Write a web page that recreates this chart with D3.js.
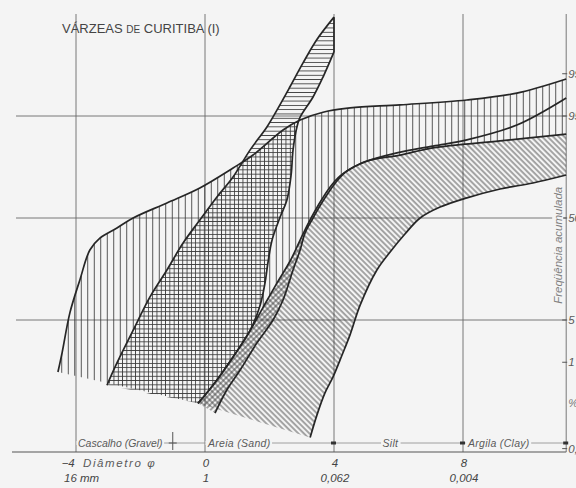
<!DOCTYPE html>
<html>
<head>
<meta charset="utf-8">
<script src="https://cdn.jsdelivr.net/npm/d3@7"></script>
<style>
  body { margin: 0; background: #f4f4f4; }
  svg { display: block; }
  text { font-family: 'Liberation Sans', Arial, sans-serif; }
</style>
</head>
<body>
<script>
// cumulative curves, as [phi, cumulative %]
let vUpper = [[-4.56, 0.65], [-4.43, 1.5], [-4.19, 6.3], [-3.88, 15.9], [-3.57, 30.3], [-3.26, 37.3],
  [-2.73, 43.6], [-2.23, 50], [-1.18, 59.6], [-0.16, 68.6], [0.87, 79.0], [1.49, 84.5], [2.42, 92.2],
  [2.95, 94.3], [3.66, 95.6], [4.5, 96.2], [6.05, 96.6], [8.12, 97.15], [9.67, 97.8], [11.2, 98.75]]

let hUpper = [[-3.04, 0.35], [-2.73, 0.97], [-2.23, 3.5], [-1.71, 10.1], [-1.18, 20.1], [-0.68, 34.3],
  [-0.16, 48.7], [0.37, 63.3], [0.87, 74.6], [1.4, 86.4], [1.92, 92.9], [2.23, 95.9], [2.64, 98.3],
  [3.04, 99.38], [3.47, 99.8], [4.0, 99.94]]

let hLower = [[-0.22, 0.14], [-0.06, 0.19], [0.37, 0.45], [0.87, 1.25], [1.4, 3.5], [1.71, 8.0],
  [1.86, 14.7], [1.95, 23.4], [2.08, 36.1], [2.33, 50.6], [2.54, 61.4], [2.67, 75.6], [2.73, 86.4],
  [2.85, 92.9], [2.95, 94.8], [3.35, 97.45], [3.66, 98.85], [4.0, 99.63]]

let dUpper = [[-0.22, 0.14], [-0.06, 0.19], [0.37, 0.45], [0.87, 1.25], [1.4, 3.5], [1.81, 7.6],
  [2.23, 14.7], [2.64, 24.4], [2.95, 36.1], [3.19, 46.1], [3.41, 54.5], [3.63, 62.0], [3.88, 69.1],
  [4.19, 75.1], [4.56, 79.0], [5.02, 82.1], [6.05, 84.5], [7.07, 87.1], [9.15, 89.3], [11.2, 91.2]]

let fineCurve = [[0.31, 0.083], [0.68, 0.28], [1.09, 0.71], [1.61, 2.2], [2.11, 5.0], [2.42, 9.3],
  [2.73, 20.1], [2.95, 30.3], [3.1, 40.4], [3.35, 50], [3.6, 58.9], [3.84, 66.2], [4.09, 72.5],
  [4.4, 77.6], [4.96, 81.7], [5.95, 85.3], [7.07, 87.7], [8.12, 89.6], [9.67, 93.3], [11.2, 97.35]]

let dLower = [[3.26, 0.02], [3.47, 0.074], [3.72, 0.24], [3.97, 0.52], [4.25, 1.36], [4.5, 3.0],
  [4.81, 8.0], [5.33, 20.1], [5.74, 29.2], [6.2, 39.8], [6.67, 50], [7.29, 57.0], [8.12, 62.7],
  [9.15, 68.0], [10.17, 71.4], [11.2, 75.6]]

// axes
let phiTicks = [-4, 0, 4, 8]
let mmTicks = ['16 mm', '1', '0,062', '0,004']
let pctGrid = [95, 50, 5]
let pctTicks = [99, 95, 50, 5, 1, 0.01]
let pctLabels = ['99', '95', '50', '5', '1', '0,01']
let classNames = ['Cascalho (Gravel)', 'Areia (Sand)', 'Silt', 'Argila (Clay)']
let classLimits = [-1, 4, 8]
let phiMax = 11.2

let width = 576, height = 488
let bg = '#f4f4f4'
let ink = '#262626'

// inverse normal (probability paper)
function probit(p) {
  let a = [-39.69683028665376, 220.9460984245205, -275.9285104469687, 138.357751867269, -30.66479806614716, 2.506628277459239]
  let b = [-54.47609879822406, 161.5858368580409, -155.6989798598866, 66.80131188771972, -13.28068155288572]
  let c = [-0.007784894002430293, -0.3223964580411365, -2.400758277161838, -2.549732539343734, 4.374664141464968, 2.938163982698783]
  let d = [0.007784695709041462, 0.3224671290700398, 2.445134137142996, 3.754408661907416]
  let q, r
  if (p < 0.02425) {
    q = Math.sqrt(-2 * Math.log(p))
    return (((((c[0] * q + c[1]) * q + c[2]) * q + c[3]) * q + c[4]) * q + c[5]) / ((((d[0] * q + d[1]) * q + d[2]) * q + d[3]) * q + 1)
  }
  if (p > 1 - 0.02425) {
    q = Math.sqrt(-2 * Math.log(1 - p))
    return -(((((c[0] * q + c[1]) * q + c[2]) * q + c[3]) * q + c[4]) * q + c[5]) / ((((d[0] * q + d[1]) * q + d[2]) * q + d[3]) * q + 1)
  }
  q = p - 0.5
  r = q * q
  return (((((a[0] * r + a[1]) * r + a[2]) * r + a[3]) * r + a[4]) * r + a[5]) * q / (((((b[0] * r + b[1]) * r + b[2]) * r + b[3]) * r + b[4]) * r + 1)
}

let x = d3.scaleLinear().domain([-4, 8]).range([76, 463])
let zScale = d3.scaleLinear().domain([probit(0.05), probit(0.95)]).range([320, 116])
let y = pct => zScale(probit(pct / 100))

let plotTop = 14, plotBottom = 452, plotLeft = 16

let svg = d3.select('body')
  .append('svg')
  .attr('width', width)
  .attr('height', height)
  .style('background', bg)

let line = d3.line()
  .x(d => x(d[0]))
  .y(d => y(d[1]))
  .curve(d3.curveCatmullRom.alpha(0.5))

// closed outline between two curves
function band(upper, lower) {
  return line(upper) + line(lower.slice().reverse()).replace(/^M/, 'L') + 'Z'
}

let vBand = band(vUpper, dUpper)
let hBand = band(hUpper, hLower)
let dBand = band(dUpper, dLower)
let nBand = band(dUpper.filter(d => d[0] <= 2.95), fineCurve.filter(d => d[0] <= 3.1))

let defs = svg.append('defs')

function hatch(id, spacing, angle) {
  let p = defs.append('pattern')
    .attr('id', id)
    .attr('patternUnits', 'userSpaceOnUse')
    .attr('width', spacing)
    .attr('height', spacing)
    .attr('patternTransform', `rotate(${angle})`)
  p.append('line')
    .attr('x1', 0).attr('y1', spacing / 2)
    .attr('x2', spacing).attr('y2', spacing / 2)
    .attr('stroke', '#3a3a3a')
    .attr('stroke-width', 0.85)
}
hatch('horiz', 4.3, 0)
hatch('vert', 6.5, 90)
hatch('vertDense', 4.3, 90)
hatch('back', 3.9, 45)
hatch('fwd', 3.9, -45)

function clip(id, d) {
  defs.append('clipPath').attr('id', id).append('path').attr('d', d)
}
clip('clipV', vBand)
clip('clipH', hBand)
clip('clipD', dBand)
clip('clipN', nBand)

let mask = defs.append('mask').attr('id', 'notH')
mask.append('rect').attr('width', width).attr('height', height).attr('fill', '#fff')
mask.append('path').attr('d', hBand).attr('fill', '#000')

// grid
let grid = svg.append('g').attr('stroke', '#6a6a6a').attr('stroke-width', 0.9)

phiTicks.concat([phiMax]).forEach(p => {
  grid.append('line')
    .attr('x1', x(p)).attr('x2', x(p))
    .attr('y1', plotTop).attr('y2', plotBottom)
})

pctGrid.forEach(p => {
  grid.append('line')
    .attr('x1', plotLeft).attr('x2', x(phiMax))
    .attr('y1', y(p)).attr('y2', y(p))
})

// hatched envelopes
function fillRect(g) {
  return g.append('rect').attr('width', width).attr('height', height)
}

fillRect(svg).attr('fill', 'url(#vert)').attr('clip-path', 'url(#clipV)').attr('mask', 'url(#notH)')
fillRect(svg).attr('fill', 'url(#horiz)').attr('clip-path', 'url(#clipH)')
fillRect(svg.append('g').attr('clip-path', 'url(#clipV)'))
  .attr('fill', 'url(#vertDense)').attr('clip-path', 'url(#clipH)')
fillRect(svg).attr('fill', 'url(#back)').attr('clip-path', 'url(#clipD)')
fillRect(svg).attr('fill', 'url(#fwd)').attr('clip-path', 'url(#clipN)')

// curves
let curves = svg.append('g')
  .attr('fill', 'none')
  .attr('stroke', ink)
  .attr('stroke-width', 1.7)

;[vUpper, hUpper, hLower, dUpper, fineCurve, dLower].forEach(c => {
  curves.append('path').attr('d', line(c))
})

curves.append('line')
  .attr('x1', x(4)).attr('x2', x(4))
  .attr('y1', y(hUpper[hUpper.length - 1][1]))
  .attr('y2', y(hLower[hLower.length - 1][1]))

// bottom axis
svg.append('line')
  .attr('x1', 12).attr('x2', x(phiMax))
  .attr('y1', plotBottom).attr('y2', plotBottom)
  .attr('stroke', '#555').attr('stroke-width', 1)

let txt = '#5a5a5a'

// size-class dimension line
let dimY = plotBottom - 9
svg.append('line')
  .attr('x1', x(-4) + 2).attr('x2', x(phiMax))
  .attr('y1', dimY).attr('y2', dimY)
  .attr('stroke', '#8a8a8a').attr('stroke-width', 0.8)

let classPos = [
  { x: x(-4) + 2, anchor: 'start' },
  { x: x(0) + 3, anchor: 'start' },
  { x: x(5.75), anchor: 'middle' },
  { x: x(8) + 5, anchor: 'start' }
]

classNames.forEach((name, i) => {
  let t = svg.append('text')
    .attr('x', classPos[i].x)
    .attr('y', dimY + 4)
    .attr('text-anchor', classPos[i].anchor)
    .attr('font-size', 10.5)
    .attr('font-style', 'italic')
    .attr('letter-spacing', i === 0 ? 0 : 0.3)
    .attr('fill', txt)
    .text(name)
  let bb = t.node().getBBox()
  svg.insert('rect', () => t.node())
    .attr('x', bb.x - 1.5).attr('y', dimY - 2)
    .attr('width', bb.width + 3).attr('height', 4)
    .attr('fill', bg)
})

// class limit marks
svg.append('line')
  .attr('x1', x(classLimits[0])).attr('x2', x(classLimits[0]))
  .attr('y1', dimY - 11).attr('y2', dimY + 7)
  .attr('stroke', '#555').attr('stroke-width', 1)
svg.append('line')
  .attr('x1', x(classLimits[0]) - 4).attr('x2', x(classLimits[0]) + 4)
  .attr('y1', dimY).attr('y2', dimY)
  .attr('stroke', '#555').attr('stroke-width', 1)

classLimits.slice(1).concat([phiMax]).forEach(p => {
  svg.append('rect')
    .attr('x', x(p) - 3).attr('y', dimY - 1.5)
    .attr('width', 5).attr('height', 3)
    .attr('fill', '#333')
})

// tick labels under the axis
phiTicks.forEach((p, i) => {
  svg.append('text')
    .attr('x', x(p) + (p < 0 ? -8 : 1))
    .attr('y', plotBottom + 15)
    .attr('text-anchor', 'middle')
    .attr('font-size', 11.5)
    .attr('font-style', 'italic')
    .attr('fill', '#444')
    .text(p < 0 ? '\u2212' + Math.abs(p) : p)

  svg.append('text')
    .attr('x', i === 0 ? x(p) - 12 : x(p) + 1)
    .attr('y', plotBottom + 30)
    .attr('text-anchor', i === 0 ? 'start' : 'middle')
    .attr('font-size', 11.5)
    .attr('font-style', 'italic')
    .attr('fill', '#444')
    .text(mmTicks[i])
})

svg.append('text')
  .attr('x', x(-4) + 7)
  .attr('y', plotBottom + 15)
  .attr('font-size', 11.5)
  .attr('font-style', 'italic')
  .attr('letter-spacing', 1.6)
  .attr('fill', txt)
  .text('Diâmetro \u03c6')

// right probability axis (cut by the page edge)
pctTicks.forEach((p, i) => {
  svg.append('line')
    .attr('x1', x(phiMax) - 4).attr('x2', x(phiMax) + 1)
    .attr('y1', y(p)).attr('y2', y(p))
    .attr('stroke', '#555').attr('stroke-width', 1)
  svg.append('text')
    .attr('x', x(phiMax) + 2)
    .attr('y', y(p) + 4)
    .attr('font-size', 11.5)
    .attr('font-style', 'italic')
    .attr('fill', txt)
    .text(pctLabels[i])
})

svg.append('text')
  .attr('x', x(phiMax) + 2)
  .attr('y', y(0.14) + 4)
  .attr('font-size', 11)
  .attr('font-style', 'italic')
  .attr('fill', '#777')
  .text('%')

let labX = x(phiMax) - 4, labY = y(33)
let yLab = svg.append('text')
  .attr('transform', `translate(${labX}, ${labY}) rotate(-90)`)
  .attr('text-anchor', 'middle')
  .attr('font-size', 11.5)
  .attr('font-style', 'italic')
  .attr('fill', '#808080')
  .text('Freqüência acumulada')
let lb = yLab.node().getBBox()
svg.insert('rect', () => yLab.node())
  .attr('x', labX - 10)
  .attr('y', labY - lb.width / 2 - 2)
  .attr('width', 11)
  .attr('height', lb.width + 4)
  .attr('fill', bg)

// title
let title = svg.append('text')
  .attr('x', 62)
  .attr('y', 33)
  .attr('font-size', 13)
  .attr('fill', '#444')
title.append('tspan').text('VÁRZEAS ')
title.append('tspan').attr('font-size', 10).text('DE')
title.append('tspan').text(' CURITIBA (I)')
</script>
</body>
</html>
